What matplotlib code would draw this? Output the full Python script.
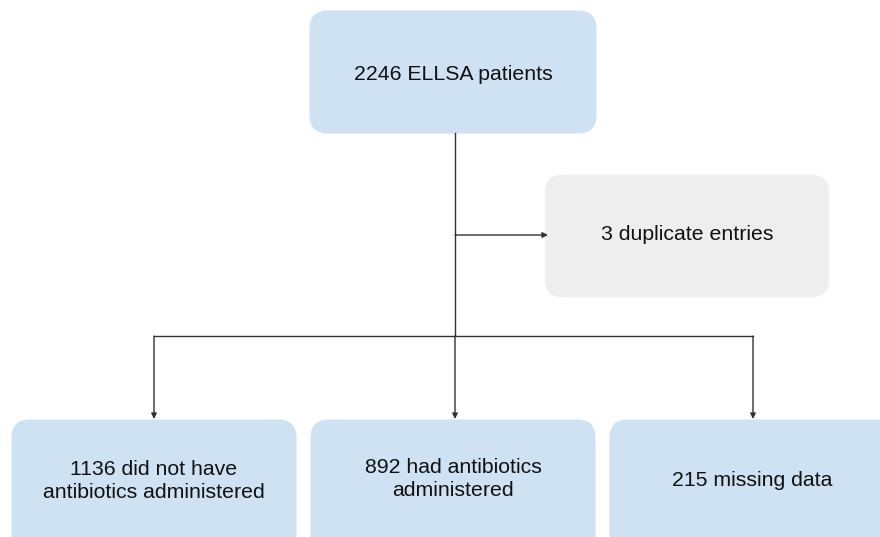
import matplotlib.pyplot as plt
from matplotlib.patches import FancyBboxPatch

# flowchart content
total = 2246
duplicates = 3
groups = ["did not have\nantibiotics administered", "had antibiotics\nadministered", "missing data"]
group_counts = [1136, 892, 215]

blue = "#cfe2f3"
grey = "#eeeeee"
line_col = "#333333"

plt.rcParams["font.family"] = ["Liberation Sans", "DejaVu Sans"]

fig = plt.figure(figsize=(8.8, 5.37), dpi=100)
ax = fig.add_axes([0, 0, 1, 1])
ax.set_xlim(0, 880)
ax.set_ylim(537, 0)
ax.axis("off")


def box(x0, y0, x1, y1, color, text, ty=None, edge=None):
    p = FancyBboxPatch((x0, y0), x1 - x0, y1 - y0,
                       boxstyle="round,pad=0,rounding_size=18",
                       facecolor=color, edgecolor=edge or color, lw=0.8)
    ax.add_patch(p)
    if ty is None:
        ty = (y0 + y1) / 2
    ax.text((x0 + x1) / 2, ty, text, ha="center", va="center",
            fontsize=15.3, color="#111111", linespacing=1.32)


def arrow(x0, y0, x1, y1):
    ax.annotate("", xy=(x1, y1), xytext=(x0, y0),
                arrowprops=dict(arrowstyle="-|>", color=line_col, lw=1.0,
                                mutation_scale=8, shrinkA=0, shrinkB=0))


# top box
box(310, 11, 596, 133, blue, f"{total} ELLSA patients", ty=74)
# exclusion box
box(545, 175, 829, 297, grey, f"{duplicates} duplicate entries", ty=235, edge="#f4f4f4")

# bottom boxes (run off the bottom edge)
bottom_x = [(12, 296), (311, 595), (610, 894)]
text_y = [481, 479, 480]
for (x0, x1), n, g, ty in zip(bottom_x, group_counts, groups, text_y):
    box(x0, 420, x1, 560, blue, f"{n} {g}", ty=ty)

# connectors
ax.plot([455, 455], [133, 336], color=line_col, lw=1.0)
arrow(455, 235, 548, 235)
ax.plot([154, 753], [336, 336], color=line_col, lw=1.0)
arrow(154, 336, 154, 419)
arrow(455, 336, 455, 419)
arrow(753, 336, 753, 419)

fig.savefig("out.png", dpi=100)
